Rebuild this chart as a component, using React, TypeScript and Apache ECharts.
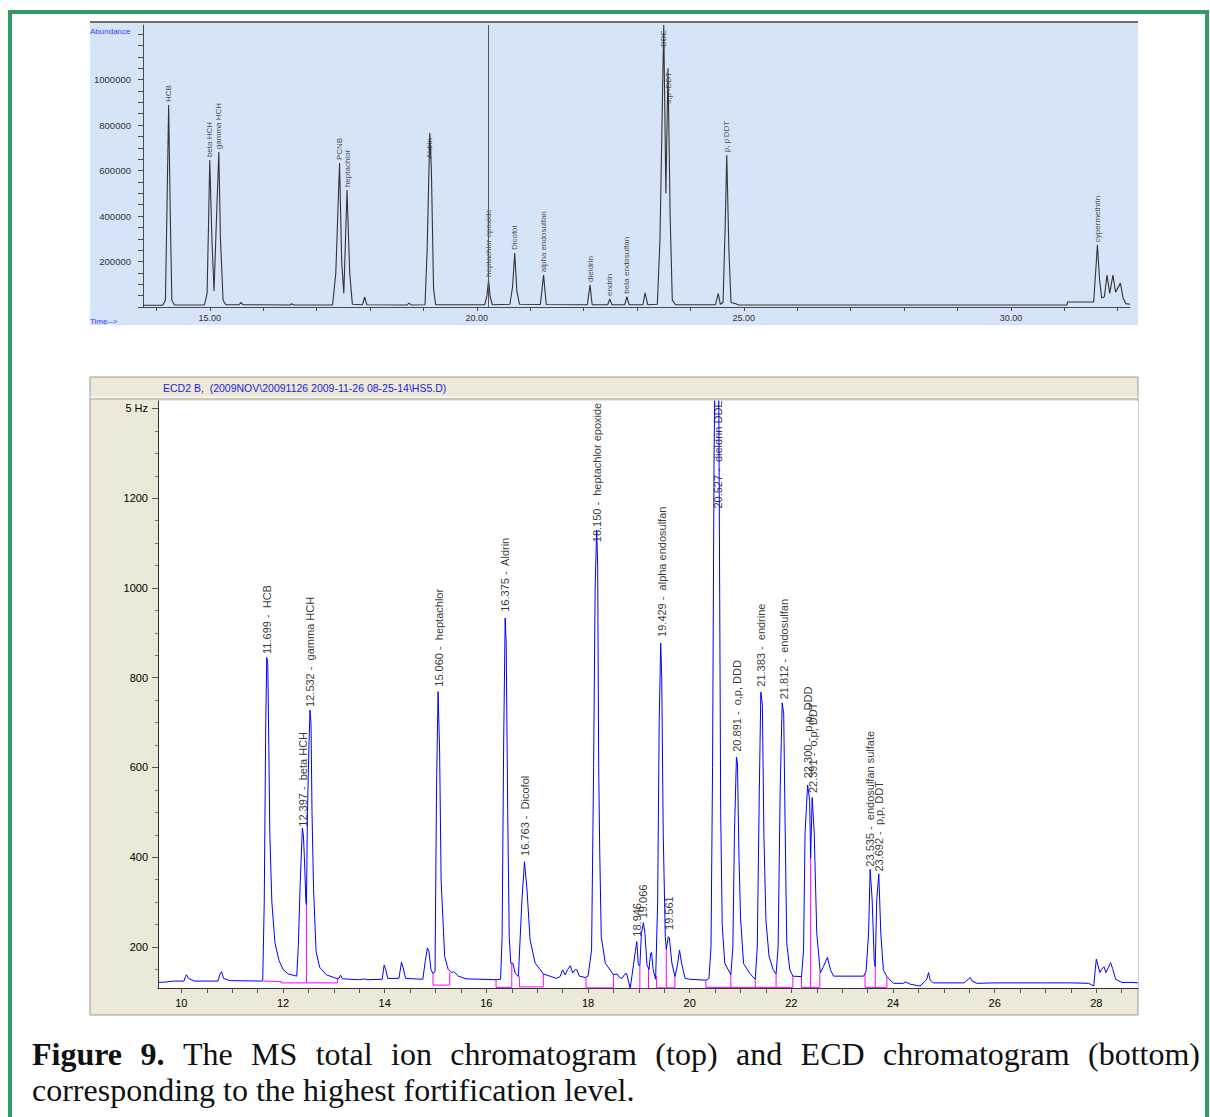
import React, { useEffect, useRef } from "react";
import * as echarts from "echarts";

// ---------- MS total ion chromatogram (top) ----------
// [retention time (min), abundance]
const msTrace: [number, number][] = [
  [13.75, 8000], [14.12, 8000], [14.17, 30000], [14.2, 450000], [14.23, 888000], [14.26, 420000],
  [14.29, 30000], [14.34, 9000], [14.9, 9000], [14.95, 60000], [14.98, 400000], [15.0, 646000],
  [15.04, 300000], [15.08, 70000], [15.12, 350000], [15.17, 681000], [15.2, 300000], [15.25, 30000],
  [15.3, 10000], [15.55, 10000], [15.58, 20000], [15.62, 10000], [16.5, 9000], [16.53, 14000],
  [16.57, 9000], [17.3, 9000], [17.36, 150000], [17.43, 633000], [17.47, 200000], [17.51, 60000],
  [17.57, 514000], [17.62, 150000], [17.67, 12000], [17.86, 10000], [17.9, 44000], [17.94, 10000],
  [18.7, 9000], [18.73, 17000], [18.77, 9000], [19.03, 10000], [19.07, 250000], [19.12, 765000],
  [19.15, 600000], [19.19, 80000], [19.23, 10000], [20.15, 10000], [20.19, 50000], [20.22, 119000],
  [20.25, 45000], [20.29, 10000], [20.62, 12000], [20.67, 90000], [20.71, 237000], [20.75, 70000],
  [20.8, 12000], [21.19, 11000], [21.25, 140000], [21.3, 11000], [22.07, 10000], [22.12, 97000],
  [22.16, 10000], [22.45, 10000], [22.49, 35000], [22.53, 10000], [22.77, 10000], [22.81, 45000],
  [22.85, 10000], [23.11, 10000], [23.15, 62000], [23.2, 10000], [23.38, 12000], [23.43, 300000],
  [23.5, 1240000], [23.54, 500000], [23.58, 1050000], [23.62, 400000], [23.66, 30000], [23.72, 10000],
  [24.47, 10000], [24.52, 60000], [24.56, 12000], [24.61, 20000], [24.65, 350000], [24.68, 668000],
  [24.72, 250000], [24.76, 20000], [24.85, 14000], [24.9, 9000], [31.05, 9000], [31.06, 22000],
  [31.55, 22000], [31.58, 130000], [31.62, 272000], [31.66, 120000], [31.7, 40000], [31.75, 45000],
  [31.8, 140000], [31.85, 60000], [31.91, 140000], [31.96, 65000], [32.05, 105000], [32.1, 40000],
  [32.15, 15000], [32.23, 12000],
];
// [time, label anchor abundance, text]
const msLabels: [number, number, string][] = [
  [14.23, 888000, "HCB"],
  [15.0, 646000, "beta HCH"],
  [15.17, 681000, "gamma HCH"],
  [17.43, 633000, "PCNB"],
  [17.57, 514000, "heptachlor"],
  [19.12, 640000, "Aldrin"],
  [20.22, 119000, "heptachlor epoxide"],
  [20.71, 237000, "Dicofol"],
  [21.25, 140000, "alpha endosulfan"],
  [22.12, 97000, "dieldrin"],
  [22.49, 35000, "endrin"],
  [22.81, 45000, "beta endosulfan"],
  [23.5, 1130000, "DDE"],
  [23.58, 880000, "o,p'-DDT"],
  [24.68, 668000, "p, p'DDT"],
  [31.62, 272000, "cypermethrin"],
];
const msCursor = 20.22;
const msYLabels = [200000, 400000, 600000, 800000, 1000000];
const msXLabels = [15, 20, 25, 30];

// ---------- ECD chromatogram (bottom) ----------
// [retention time (min), signal]
const ecdTrace: [number, number][] = [
  [9.54, 121], [9.7, 122], [9.85, 124], [10.05, 124], [10.08, 134], [10.1, 138], [10.14, 130],
  [10.25, 124], [10.72, 124], [10.76, 140], [10.79, 145], [10.83, 130], [10.95, 125], [11.6, 124],
  [11.63, 300], [11.66, 700], [11.68, 845], [11.7, 830], [11.72, 650], [11.74, 454], [11.78, 300],
  [11.84, 210], [11.92, 170], [12.0, 150], [12.1, 140], [12.27, 135], [12.3, 201], [12.34, 349],
  [12.38, 465], [12.4, 450], [12.42, 400], [12.45, 300], [12.46, 294], [12.48, 499], [12.51, 650],
  [12.53, 728], [12.55, 700], [12.57, 500], [12.6, 330], [12.65, 190], [12.72, 155], [12.85, 138],
  [13.05, 130], [13.1, 130], [13.13, 137], [13.17, 129], [13.5, 127], [13.6, 129], [13.65, 127],
  [13.95, 128], [13.99, 160], [14.02, 150], [14.06, 130], [14.28, 130], [14.33, 166], [14.36, 155],
  [14.41, 130], [14.75, 128], [14.8, 170], [14.84, 198], [14.87, 190], [14.91, 150], [14.95, 141],
  [14.99, 145], [15.02, 557], [15.05, 769], [15.08, 639], [15.11, 349], [15.18, 178], [15.25, 150],
  [15.31, 143], [15.36, 145], [15.45, 135], [15.6, 129], [16.2, 127], [16.28, 128], [16.31, 223],
  [16.34, 650], [16.37, 933], [16.39, 880], [16.42, 500], [16.45, 223], [16.48, 164], [16.52, 164],
  [16.57, 141], [16.63, 134], [16.7, 305], [16.75, 390], [16.8, 327], [16.86, 216], [16.96, 164],
  [17.12, 140], [17.38, 130], [17.45, 134], [17.5, 149], [17.55, 138], [17.6, 150], [17.65, 158],
  [17.7, 142], [17.75, 150], [17.78, 149], [17.83, 135], [17.95, 132], [18.0, 135], [18.07, 193],
  [18.11, 600], [18.14, 1000], [18.17, 1129], [18.19, 1050], [18.21, 600], [18.23, 416], [18.26, 223],
  [18.34, 164], [18.5, 138], [18.57, 140], [18.62, 132], [18.67, 130], [18.72, 139], [18.76, 141],
  [18.8, 122], [18.83, 108], [18.87, 140], [18.93, 190], [18.96, 212], [18.99, 160], [19.02, 158],
  [19.05, 230], [19.09, 254], [19.12, 230], [19.16, 160], [19.2, 150], [19.23, 185], [19.25, 188],
  [19.28, 150], [19.33, 128], [19.37, 300], [19.4, 700], [19.43, 877], [19.45, 800], [19.48, 450],
  [19.52, 223], [19.54, 195], [19.58, 223], [19.6, 220], [19.65, 164], [19.71, 134], [19.76, 160],
  [19.8, 193], [19.84, 164], [19.91, 130], [20.0, 128], [20.32, 126], [20.38, 130], [20.42, 200],
  [20.45, 600], [20.48, 1300], [20.5, 1480], [20.57, 1480], [20.59, 1000], [20.61, 500], [20.64, 250],
  [20.69, 164], [20.76, 149], [20.81, 138], [20.85, 200], [20.88, 450], [20.92, 623], [20.94, 610],
  [20.97, 400], [21.0, 267], [21.06, 163], [21.19, 140], [21.29, 128], [21.33, 200], [21.37, 550],
  [21.4, 768], [21.43, 740], [21.46, 450], [21.5, 260], [21.56, 180], [21.64, 150], [21.7, 140],
  [21.74, 200], [21.78, 550], [21.82, 744], [21.85, 720], [21.88, 450], [21.91, 208], [21.97, 149],
  [22.03, 135], [22.2, 134], [22.24, 193], [22.27, 454], [22.32, 561], [22.36, 527], [22.38, 398],
  [22.41, 533], [22.45, 454], [22.5, 231], [22.57, 142], [22.63, 156], [22.71, 177], [22.77, 149],
  [22.83, 135], [23.42, 135], [23.47, 145], [23.52, 231], [23.55, 373], [23.59, 305], [23.63, 171],
  [23.65, 156], [23.68, 305], [23.72, 363], [23.76, 231], [23.81, 149], [23.88, 134], [24.01, 119],
  [24.2, 119], [24.25, 122], [24.34, 117], [24.53, 113], [24.66, 127], [24.7, 143], [24.73, 127],
  [24.79, 120], [25.4, 120], [25.48, 128], [25.52, 132], [25.56, 124], [25.65, 119], [26.0, 120],
  [27.0, 120], [27.5, 120], [27.85, 119], [27.95, 113], [27.98, 150], [28.0, 173], [28.03, 160],
  [28.07, 143], [28.1, 150], [28.15, 156], [28.19, 143], [28.24, 155], [28.28, 165], [28.32, 152],
  [28.38, 128], [28.5, 121], [28.7, 121], [28.82, 120],
];
// integration baselines (magenta)
const ecdBaselines: [number, number][][] = [
  [[11.62, 124], [11.96, 123], [11.96, 120], [13.07, 120], [13.07, 130]],
  [[12.46, 120], [12.46, 294]],
  [[14.95, 141], [14.95, 115], [15.28, 115], [15.28, 143]],
  [[16.19, 128], [16.19, 110], [16.5, 110], [16.5, 164]],
  [[16.65, 134], [16.65, 111], [17.12, 111], [17.12, 140]],
  [[17.96, 132], [17.96, 109], [18.5, 109], [18.5, 138]],
  [[18.83, 108], [18.83, 107], [19.19, 107], [19.19, 155]],
  [[19.02, 107], [19.02, 158]],
  [[19.35, 135], [19.35, 109], [19.71, 109], [19.71, 134]],
  [[19.54, 109], [19.54, 195]],
  [[20.32, 126], [20.32, 110], [22.03, 110], [22.03, 135]],
  [[20.81, 110], [20.81, 138]],
  [[21.29, 110], [21.29, 128]],
  [[21.7, 110], [21.7, 140]],
  [[22.2, 134], [22.2, 110], [22.56, 110], [22.56, 142]],
  [[22.38, 110], [22.38, 398]],
  [[23.45, 140], [23.45, 110], [23.88, 110], [23.88, 134]],
  [[23.65, 110], [23.65, 156]],
];
// [time, label anchor signal, text]
const ecdLabels: [number, number, string][] = [
  [11.69, 853, "11.699 -  HCB"],
  [12.39, 468, "12.397 -  beta HCH"],
  [12.53, 735, "12.532 -  gamma HCH"],
  [15.06, 780, "15.060 -  heptachlor"],
  [16.37, 947, "16.375 -  Aldrin"],
  [16.76, 403, "16.763 -  Dicofol"],
  [18.17, 1102, "18.150 -  heptachlor epoxide"],
  [18.96, 223, "18.946"],
  [19.09, 264, "19.066"],
  [19.45, 891, "19.429 -  alpha endosulfan"],
  [19.6, 238, "19.561"],
  [20.55, 1177, "20.527 -  dieldrin DDE"],
  [20.93, 635, "20.891 -  o,p, DDD"],
  [21.4, 780, "21.383 -  endrine"],
  [21.86, 752, "21.812 -  endosulfan"],
  [22.32, 576, "22.300 -  p,p, DDD"],
  [22.42, 543, "22.391 -  o,p, DDT"],
  [23.55, 379, "23.535 -  endosulfan sulfate"],
  [23.72, 368, "23.692 -  p,p, DDT"],
];
const ecdYLabels = [200, 400, 600, 800, 1000, 1200, 1400];
const ecdYMinorTicks = [150, 250, 300, 350, 450, 500, 550, 650, 700, 750, 850, 900, 950, 1050, 1100, 1150, 1250, 1300, 1350];
const ecdXLabels = [10, 12, 14, 16, 18, 20, 22, 24, 26, 28];
const ecdHeader = "ECD2 B,  (2009NOV\\20091126 2009-11-26 08-25-14\\HS5.D)";

// caption words of line 1 (justified) and line 2
const captionLine1: [string, boolean][] = [
  ["Figure", true], ["9.", true], ["The", false], ["MS", false], ["total", false], ["ion", false],
  ["chromatogram", false], ["(top)", false], ["and", false], ["ECD", false], ["chromatogram", false],
  ["(bottom)", false],
];
const captionLine2 = "corresponding to the highest fortification level.";

const steps = (a: number, b: number, s: number) => {
  const r: number[] = [];
  for (let v = a; v <= b + 1e-9; v += s) r.push(Math.round(v * 1000) / 1000);
  return r;
};

export default function App() {
  const ref = useRef<HTMLDivElement>(null);
  useEffect(() => {
    if (!ref.current) return;
    const chart = echarts.init(ref.current, null, { renderer: "svg" });

    // caption layout (justify line 1 between x=32 and x=1200)
    const fs = 32;
    const ctx = document.createElement("canvas").getContext("2d")!;
    const widths = captionLine1.map(([w, b]) => {
      ctx.font = `${b ? "bold " : ""}${fs}px "Liberation Serif"`;
      return ctx.measureText(w).width;
    });
    const total = widths.reduce((a, b) => a + b, 0);
    const gap = (1200 - 32 - total) / (captionLine1.length - 1);
    let cx = 32;
    const capEls: any[] = captionLine1.map(([w, b], i) => {
      const el = {
        type: "text", x: cx, y: 1054, z: 5,
        style: { text: w, fill: "#111", fontSize: fs, fontFamily: "Liberation Serif", fontWeight: b ? "bold" : "normal", align: "left", verticalAlign: "middle" },
      };
      cx += widths[i] + gap;
      return el;
    });
    capEls.push({
      type: "text", x: 32, y: 1090, z: 5,
      style: { text: captionLine2, fill: "#111", fontSize: fs, fontFamily: "Liberation Serif", align: "left", verticalAlign: "middle" },
    });

    const sans = "Liberation Sans";
    const option: any = {
      animation: false,
      backgroundColor: "#ffffff",
      graphic: [
        { type: "rect", z: -10, shape: { x: 10, y: 12, width: 1197, height: 1200 }, style: { fill: "none", stroke: "#339966", lineWidth: 4 } },
        { type: "rect", z: -10, shape: { x: 90, y: 22, width: 1048, height: 303 }, style: { fill: "#D6E4F8" } },
        { type: "rect", z: -9, shape: { x: 90, y: 21, width: 1048, height: 2 }, style: { fill: "#6e6e6e" } },
        { type: "text", z: 5, x: 90, y: 31, style: { text: "Abundance", fill: "#3a3aff", fontSize: 8, fontFamily: sans, verticalAlign: "middle" } },
        { type: "text", z: 5, x: 90, y: 321, style: { text: "Time-->", fill: "#3a3aff", fontSize: 8, fontFamily: sans, verticalAlign: "middle" } },
        { type: "rect", z: -10, shape: { x: 90, y: 377, width: 1048, height: 638 }, style: { fill: "#ECE9D8", stroke: "#9a9a9a", lineWidth: 1 } },
        { type: "line", z: -9, shape: { x1: 90, y1: 397, x2: 1138, y2: 397 }, style: { stroke: "#ffffff", lineWidth: 1 } },
        { type: "line", z: -9, shape: { x1: 90, y1: 399, x2: 1138, y2: 399 }, style: { stroke: "#aca899", lineWidth: 1 } },
        { type: "rect", z: -9, shape: { x: 158, y: 401, width: 980, height: 587 }, style: { fill: "#ffffff" } },
        { type: "text", z: 5, x: 163, y: 388, style: { text: ecdHeader, fill: "#2020dd", fontSize: 10.5, fontFamily: sans, verticalAlign: "middle" } },
        ...capEls,
      ],
      grid: [
        { left: 143, top: 25, width: 987, height: 282 },
        { left: 158, top: 401, width: 980, height: 587 },
      ],
      xAxis: [
        {
          gridIndex: 0, type: "value", min: 13.75, max: 32.23, position: "bottom",
          axisLine: { onZero: false, lineStyle: { color: "#4a4a4a" } },
          axisTick: { show: true, customValues: steps(14, 32, 1), length: 4, lineStyle: { color: "#4a4a4a" } },
          axisLabel: { customValues: msXLabels, formatter: (v: number) => v.toFixed(2), fontSize: 9, color: "#333", margin: 6, fontFamily: sans },
          splitLine: { show: false },
        },
        {
          gridIndex: 1, type: "value", min: 9.54, max: 28.82, position: "bottom",
          axisLine: { onZero: false, lineStyle: { color: "#333" } },
          axisTick: { show: true, customValues: steps(10, 28.5, 0.5), length: 5, lineStyle: { color: "#555" } },
          axisLabel: { customValues: ecdXLabels, fontSize: 11, color: "#000", margin: 9, fontFamily: sans },
          splitLine: { show: false },
        },
      ],
      yAxis: [
        {
          gridIndex: 0, type: "value", min: 0, max: 1240000, position: "left",
          axisLine: { show: true, onZero: false, lineStyle: { color: "#4a4a4a" } },
          axisTick: { show: true, customValues: steps(0, 1200000, 50000), length: 5, lineStyle: { color: "#4a4a4a" } },
          axisLabel: { customValues: msYLabels, formatter: (v: number) => String(v), fontSize: 9.5, color: "#333", margin: 12, fontFamily: sans },
          splitLine: { show: false },
        },
        {
          gridIndex: 1, type: "value", min: 108.6, max: 1416.7, position: "left",
          axisLine: { show: true, onZero: false, lineStyle: { color: "#333" } },
          axisTick: { show: true, customValues: ecdYLabels, length: 6, lineStyle: { color: "#555" } },
          axisLabel: { customValues: ecdYLabels, formatter: (v: number) => (v === 1400 ? "5 Hz" : String(v)), fontSize: 11, color: "#000", margin: 10, fontFamily: sans },
          splitLine: { show: false },
        },
        {
          gridIndex: 1, type: "value", min: 108.6, max: 1416.7, position: "left", offset: 0,
          axisLine: { show: false, onZero: false },
          axisTick: { show: true, customValues: ecdYMinorTicks, length: 3, lineStyle: { color: "#777" } },
          axisLabel: { show: false },
          splitLine: { show: false },
        },
      ],
      series: [
        {
          type: "line", xAxisIndex: 0, yAxisIndex: 0, data: msTrace, symbol: "none", silent: true,
          lineStyle: { color: "#333", width: 1.1 },
          markLine: {
            silent: true, symbol: "none", label: { show: false },
            lineStyle: { color: "#555", width: 1, type: "solid" },
            data: [{ xAxis: msCursor }],
          },
        },
        {
          type: "scatter", xAxisIndex: 0, yAxisIndex: 0, symbolSize: 0, silent: true,
          data: msLabels.map(([t, v, s]) => ({ value: [t, v], name: s })),
          label: { show: true, formatter: "{b}", position: "top", distance: 3, rotate: 90, align: "left", verticalAlign: "middle", fontSize: 8, color: "#222", fontFamily: sans },
        },
        {
          type: "line", xAxisIndex: 1, yAxisIndex: 1, data: ecdTrace, symbol: "none", silent: true,
          lineStyle: { color: "#0000FF", width: 1 },
        },
        {
          type: "lines", coordinateSystem: "cartesian2d", xAxisIndex: 1, yAxisIndex: 1, polyline: true, silent: true,
          data: ecdBaselines.map((c) => ({ coords: c })),
          lineStyle: { color: "#FF00FF", width: 1, opacity: 1 },
        },
        {
          type: "scatter", xAxisIndex: 1, yAxisIndex: 1, symbolSize: 0, silent: true,
          data: ecdLabels.map(([t, v, s]) => ({ value: [t, v], name: s })),
          label: { show: true, formatter: "{b}", position: "top", distance: 0, rotate: 90, align: "left", verticalAlign: "middle", fontSize: 11, color: "#000", fontFamily: sans },
        },
      ],
    };
    chart.setOption(option);
    return () => chart.dispose();
  }, []);
  return (
    <div
      ref={ref}
      style={{ position: "absolute", left: 0, top: 0, width: 1210, height: 1117, background: "#fff" }}
    />
  );
}
